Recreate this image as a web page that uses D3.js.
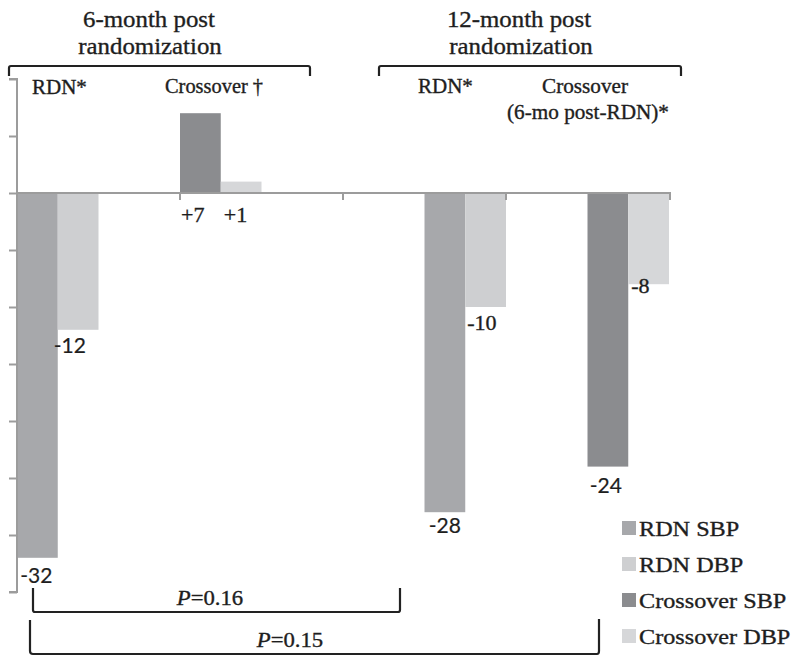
<!DOCTYPE html>
<html>
<head>
<meta charset="utf-8">
<script src="https://cdn.jsdelivr.net/npm/d3@7"></script>
<style>
  html, body { margin: 0; padding: 0; background: #fff; }
  svg { display: block; }
</style>
</head>
<body>
<svg id="chart" width="796" height="658"></svg>
<script>
// ---- data ----
const categories = ["RDN 6-month", "Crossover 6-month", "RDN 12-month", "Crossover 12-month"];
const groupKind = ["RDN", "Crossover", "RDN", "Crossover"];
const sbpValues = [-32, 7, -28, -24];
const dbpValues = [-12, 1, -10, -8];
const sbpLabels = ["-32", "+7", "-28", "-24"];
const dbpLabels = ["-12", "+1", "-10", "-8"];
const yTicks = [10, 5, 0, -5, -10, -15, -20, -25, -30, -35];
const legendNames = ["RDN SBP", "RDN DBP", "Crossover SBP", "Crossover DBP"];

// ---- styles ----
const colors = {
  "RDN SBP": "#a7a8ab",
  "RDN DBP": "#cecfd1",
  "Crossover SBP": "#8b8c8f",
  "Crossover DBP": "#d6d7d9"
};
const serif = "'Liberation Serif', 'Times New Roman', serif";
const sans = "Lato, 'Open Sans', 'DejaVu Sans', sans-serif";
const ink = "#1e1e1e";
const axisColor = "#9c9c9c";

const svg = d3.select("#chart");

const y = d3.scaleLinear().domain([-35, 10]).range([592, 79]);
const x = d3.scaleBand().domain(categories).range([17, 669]).padding(0);
const slot = d3.scaleBand().domain([0, 1, 2, 3]).range([0, x.bandwidth()]).padding(0);

function addText(g, str, px, py, size, family, anchor, opts = {}) {
  const t = g.append("text")
    .attr("x", px).attr("y", py)
    .attr("font-family", family)
    .attr("font-size", size)
    .attr("fill", ink)
    .attr("stroke", ink)
    .attr("stroke-width", opts.sw === undefined ? 0.35 : opts.sw)
    .attr("text-anchor", anchor || "start");
  if (opts.html) t.html(str); else t.text(str);
  const s = opts.stretch === undefined ? 1 : opts.stretch;
  if (s !== 1) {
    const w = t.node().getComputedTextLength();
    t.attr("textLength", w * s).attr("lengthAdjust", "spacingAndGlyphs");
  }
  return t;
}

// ---- bars ----
const bars = [];
categories.forEach((c, i) => {
  const start = i < 2 ? 0 : 2;
  bars.push({ cat: c, series: groupKind[i] + " SBP", value: sbpValues[i], s: start });
  bars.push({ cat: c, series: groupKind[i] + " DBP", value: dbpValues[i], s: start + 1 });
});

svg.append("g").selectAll("rect").data(bars).join("rect")
  .attr("x", d => x(d.cat) + slot(d.s))
  .attr("width", slot.bandwidth())
  .attr("y", d => y(Math.max(0, d.value)))
  .attr("height", d => Math.abs(y(d.value) - y(0)))
  .attr("fill", d => colors[d.series]);

// ---- axes ----
const yAxis = svg.append("g")
  .attr("transform", `translate(${x.range()[0]},0)`)
  .call(d3.axisLeft(y).tickValues(yTicks).tickSize(8).tickFormat(""));
yAxis.select(".domain").attr("stroke", axisColor).attr("stroke-width", 2).attr("d", `M-8,${y(10)}H0V${y(-35)}H-8`);
yAxis.selectAll(".tick line").attr("stroke", axisColor).attr("stroke-width", 2);

const xAxis = svg.append("g")
  .attr("transform", `translate(0,${y(0)})`)
  .call(d3.axisBottom(x).tickSize(0).tickFormat(""));
xAxis.select(".domain").attr("stroke", axisColor).attr("stroke-width", 2).attr("d", `M${x.range()[0]},0H${x.range()[1] + 2}`);
xAxis.selectAll(".tick").remove();
const bounds = categories.slice(1).map(c => x(c)).concat([x.range()[1] + 1]);
xAxis.selectAll("line.sep").data(bounds).join("line")
  .attr("class", "sep")
  .attr("x1", d => d).attr("x2", d => d)
  .attr("y1", 0).attr("y2", 7)
  .attr("stroke", axisColor).attr("stroke-width", 2);

// ---- value labels ----
const lab = svg.append("g");
// 6-month RDN
addText(lab, sbpLabels[0], x(categories[0]) + slot(0) + slot.bandwidth() / 2 - 1, y(sbpValues[0]) + 25, 21, sans, "middle", { sw: 0.2 });
addText(lab, dbpLabels[0], x(categories[0]) + slot(1) - 4, y(dbpValues[0]) + 23, 21, sans, "start", { sw: 0.2 });
// 6-month crossover
addText(lab, sbpLabels[1], x(categories[1]) + slot(0) + 1, y(0) + 29, 21, serif, "start", { stretch: 1.05 });
addText(lab, dbpLabels[1], x(categories[1]) + slot(1) + 3, y(0) + 29, 21, serif, "start", { stretch: 1.05 });
// 12-month RDN
addText(lab, sbpLabels[2], x(categories[2]) + slot(2) + slot.bandwidth() / 2, y(sbpValues[2]) + 21, 21, sans, "middle", { sw: 0.2 });
addText(lab, dbpLabels[2], x(categories[2]) + slot(3) + 2, y(dbpValues[2]) + 23, 21, serif, "start", { stretch: 1.05 });
// 12-month crossover
addText(lab, sbpLabels[3], x(categories[3]) + slot(2) + slot.bandwidth() / 2 - 2, y(sbpValues[3]) + 26, 21, sans, "middle", { sw: 0.2 });
addText(lab, dbpLabels[3], x(categories[3]) + slot(3) + 3, y(dbpValues[3]) + 9, 21, serif, "start", { stretch: 1.05 });

// ---- headers ----
const hdr = svg.append("g");
addText(hdr, "6-month post", 149, 27, 23, serif, "middle", { stretch: 1.08 });
addText(hdr, "randomization", 150, 54, 23, serif, "middle", { stretch: 1.08 });
addText(hdr, "12-month post", 519, 27, 23, serif, "middle", { stretch: 1.08 });
addText(hdr, "randomization", 521, 54, 23, serif, "middle", { stretch: 1.08 });

const brk = svg.append("g").attr("fill", "none").attr("stroke", "#222").attr("stroke-width", 2.2);
brk.append("path").attr("d", "M9,76V68Q9,66 11,66H308Q310,66 310,68V76");
brk.append("path").attr("d", "M379,76V68Q379,66 381,66H679Q681,66 681,68V76");

addText(hdr, "RDN*", 32, 94, 20, serif, "start", { stretch: 1.05 });
addText(hdr, "Crossover †", 165, 93, 20, serif, "start", { stretch: 1.02 });
addText(hdr, "RDN*", 418, 93, 20, serif, "start", { stretch: 1.05 });
addText(hdr, "Crossover", 585, 93, 20, serif, "middle", { stretch: 1.06 });
addText(hdr, "(6-mo post-RDN)*", 588, 119, 20, serif, "middle", { stretch: 1.06 });

// ---- bottom brackets ----
brk.append("path").attr("d", "M33,588V610Q33,612 35,612H398Q400,612 400,610V588");
brk.append("path").attr("d", "M30,620V651Q30,654 33,654H597Q599,654 599,651V619");
addText(hdr, "<tspan font-style='italic'>P</tspan>=0.16", 210, 605, 21, serif, "middle", { html: true, stretch: 1.08 });
addText(hdr, "<tspan font-style='italic'>P</tspan>=0.15", 290, 647, 21, serif, "middle", { html: true, stretch: 1.08 });

// ---- legend ----
const leg = svg.append("g");
const legY = [528, 564, 600, 636];
legendNames.forEach((n, i) => {
  leg.append("rect").attr("x", 622).attr("y", legY[i] - 7).attr("width", 14).attr("height", 14).attr("fill", colors[n]);
  addText(leg, n, 639, legY[i] + 8, 22, serif, "start", { stretch: 1.1 });
});
</script>
</body>
</html>
